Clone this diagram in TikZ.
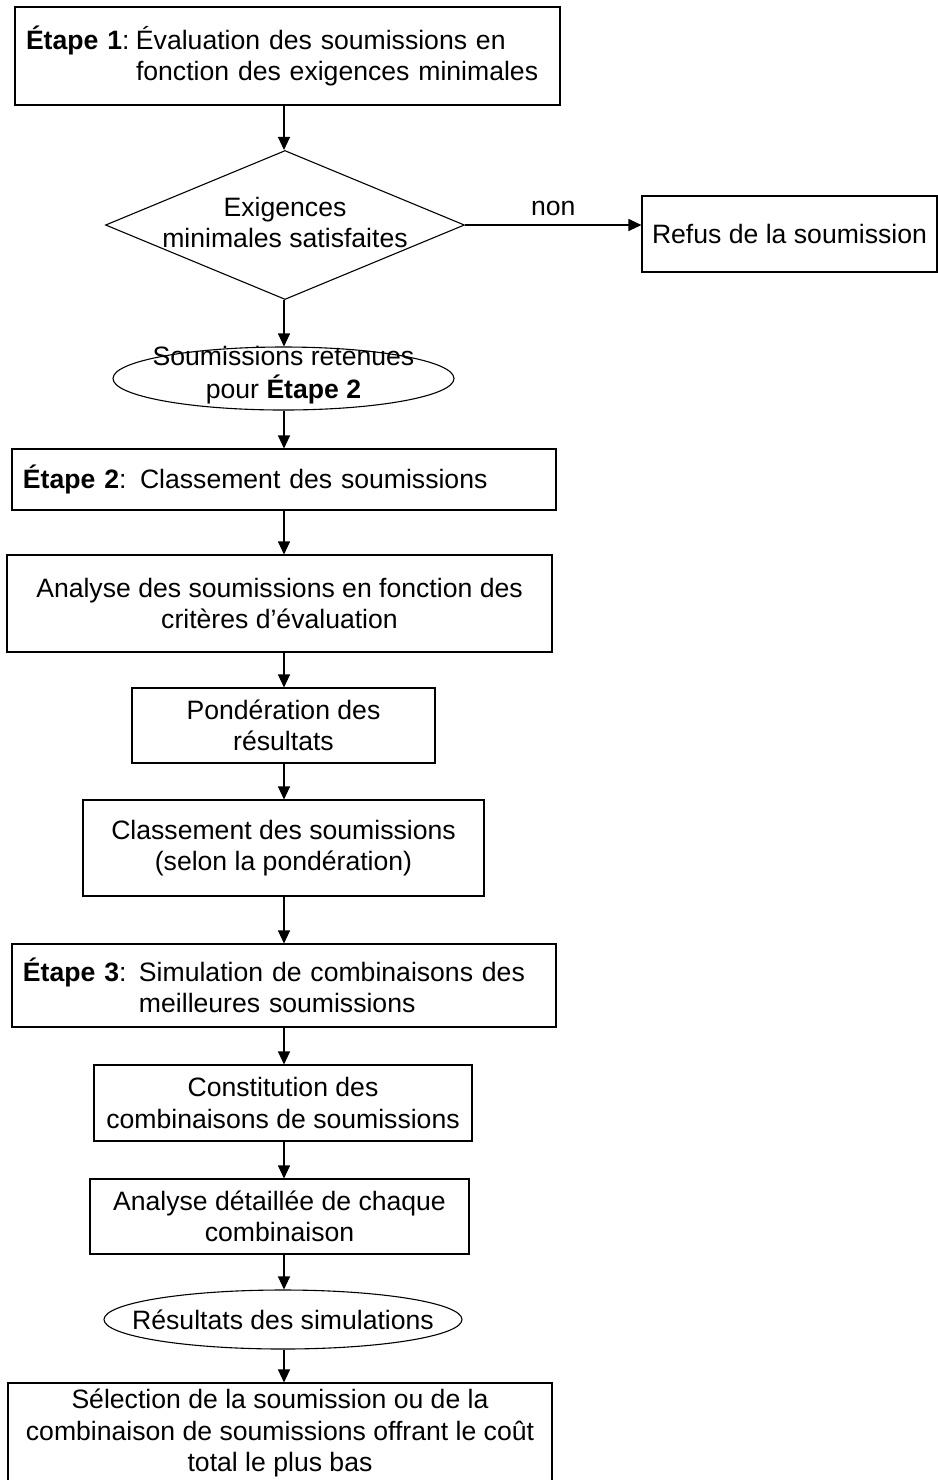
\documentclass[tikz,border=0pt]{standalone}
\usepackage{fontspec}
\setmainfont{Liberation Sans}
\usetikzlibrary{shapes.geometric,arrows.meta}
\newcommand{\etapetag}[2]{\makebox[#2][l]{\textbf{Étape #1}:}}

\begin{document}
\begin{tikzpicture}[x=0.5pt,y=-0.5pt,
    every node/.style={font=\fontsize{13.3pt}{15.8pt}\selectfont},
    box/.style={draw, line width=0.55pt, align=center, inner sep=0pt},
    stepbox/.style={draw, line width=0.55pt, align=left, inner xsep=5.5pt, inner ysep=0pt},
    decision/.style={draw, diamond, line width=0.55pt, inner sep=0pt},
    oval/.style={draw, ellipse, line width=0.55pt, inner sep=0pt},
    flow/.style={line width=0.55pt, -{Triangle[length=6.5pt,width=6pt]}}]
\useasboundingbox (0,0) rectangle (938,1480);
\coordinate (spine) at (284,0);

% etape 1
\node[stepbox, text width=261.5pt, minimum height=49pt] (etape1) at (287.5,56)
    {\etapetag{1}{55pt}Évaluation des soumissions en\\ \hspace*{55pt}fonction des exigences minimales};
\node[decision, minimum width=179.5pt, minimum height=74.5pt] (diam) at (285,225)
    {\makebox[0pt]{\smash{\raisebox{-4pt}{\begin{tabular}{@{}c@{}}Exigences\\minimales satisfaites\end{tabular}}}}};
\node[box, minimum width=147.5pt, minimum height=38pt] (refus) at (789.5,234) {Refus de la soumission};
\node[oval, minimum width=170.5pt, minimum height=31.5pt] (ret) at (283.5,378.5)
    {\makebox[0pt]{\smash{\raisebox{-2.3pt}{\begin{tabular}{@{}c@{}}Soumissions retenues\\pour \textbf{Étape 2}\end{tabular}}}}};

% etape 2
\node[stepbox, text width=261pt, minimum height=30.5pt] (etape2) at (284,479.5)
    {\etapetag{2}{58.5pt}Classement des soumissions};
\node[box, minimum width=272.5pt, minimum height=48.5pt] (analyse) at (279.5,603.5)
    {Analyse des soumissions en fonction des\\critères d’évaluation};
\node[box, minimum width=151.5pt, minimum height=37.5pt] (ponder) at (283.5,725.5)
    {Pondération des\\résultats};
\node[box, minimum width=200.5pt, minimum height=48pt] (classe) at (283.5,848)
    {Classement des soumissions\\(selon la pondération)};

% etape 3
\node[stepbox, text width=261pt, minimum height=41.5pt] (etape3) at (284,985.5)
    {\etapetag{3}{58pt}Simulation de combinaisons des\\ \hspace*{58pt}meilleures soumissions};
\node[box, minimum width=189pt, minimum height=38pt] (constit) at (283,1103)
    {Constitution des\\combinaisons de soumissions};
\node[box, minimum width=189.5pt, minimum height=37.5pt] (detail) at (279.5,1216.5)
    {Analyse détaillée de chaque\\combinaison};
\node[oval, minimum width=179pt, minimum height=29.5pt] (result) at (283,1319.5)
    {\makebox[0pt]{Résultats des simulations}};
\node[box, minimum width=272pt, minimum height=50pt] (select) at (280,1433)
    {Sélection de la soumission ou de la\\combinaison de soumissions offrant le coût\\total le plus bas};

% fleches
\draw[flow] (diam.east) -- node[above=1pt] {non} (diam.east -| refus.west);
\foreach \a/\b in {etape1/diam, diam/ret, ret/etape2, etape2/analyse, analyse/ponder,
    ponder/classe, classe/etape3, etape3/constit, constit/detail, detail/result, result/select}
  \draw[flow] (\a.south -| spine) -- (\b.north -| spine);
\end{tikzpicture}
\end{document}
